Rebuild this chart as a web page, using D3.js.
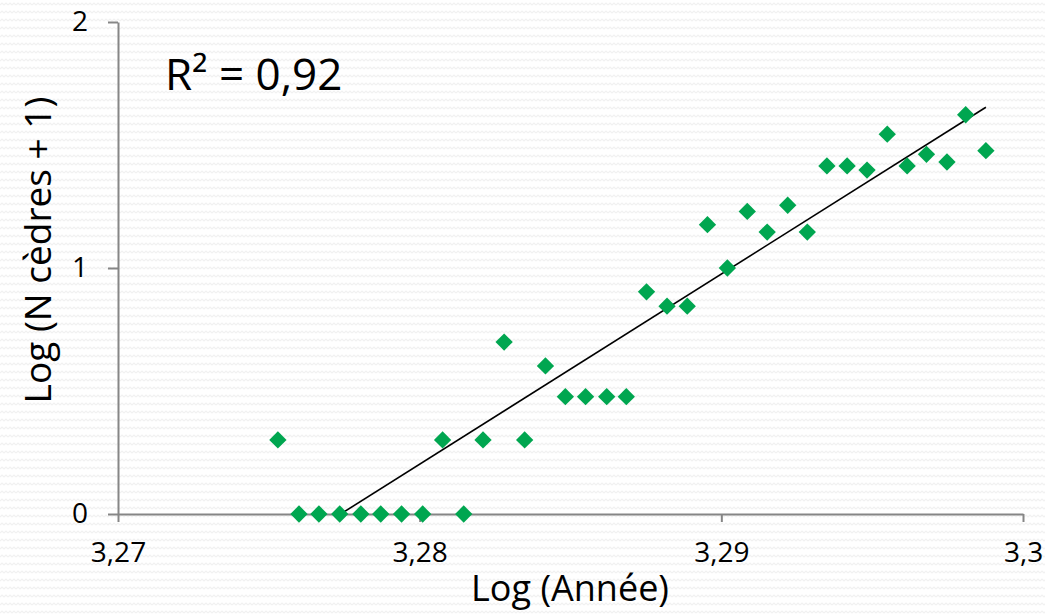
<!DOCTYPE html>
<html>
<head>
<meta charset="utf-8">
<script src="https://cdn.jsdelivr.net/npm/d3@7"></script>
<style>
    body { margin: 0; background: #fff; }
    #chart { width: 1045px; height: 615px; }
    text { font-family: "Open Sans", "Noto Sans", sans-serif; fill: #000; }
</style>
</head>
<body>
<div id="chart"></div>
<script>
//Datos
const logAnnee = [3.2753, 3.2760, 3.27666, 3.27735, 3.27805, 3.27871, 3.2794, 3.2801, 3.28076, 3.28146,
    3.2821, 3.2828, 3.28348, 3.28417, 3.28483, 3.2855, 3.2862, 3.28685, 3.28752, 3.2882,
    3.28887, 3.28954, 3.2902, 3.29086, 3.29152, 3.2922, 3.29285, 3.2935, 3.29417, 3.29483,
    3.2955, 3.29616, 3.2968, 3.29748, 3.2981, 3.29877];
const logCedres = [0.301, 0, 0, 0, 0, 0, 0, 0, 0.301, 0,
    0.301, 0.699, 0.301, 0.602, 0.477, 0.477, 0.477, 0.477, 0.903, 0.845,
    0.845, 1.176, 1.0, 1.230, 1.146, 1.255, 1.146, 1.415, 1.415, 1.398,
    1.544, 1.415, 1.462, 1.431, 1.623, 1.477];
const xTicks = [3.27, 3.28, 3.29, 3.30];
const xTickLabels = ['3,27', '3,28', '3,29', '3,3'];
const yTicks = [0, 1, 2];
const r2Label = 'R² = 0,92';

const COLOR_POINT = '#00A650',
COLOR_AXIS = '#868686';

let margin = {top: 22, right: 22, bottom: 101, left: 118},
    width = 1045 - margin.left - margin.right,
    height = 615 - margin.top - margin.bottom;

let root = d3.select('#chart')
    .append('svg')
        .attr('width', 1045)
        .attr('height', 615);

//Fondo con textura
let defs = root.append('defs');
let pat = defs.append('pattern')
    .attr('id', 'fondo')
    .attr('patternUnits', 'userSpaceOnUse')
    .attr('width', 8)
    .attr('height', 8);
pat.append('path')
    .attr('d', 'M0,5 L2,3 L4,5 L6,3 L8,5')
    .attr('fill', 'none')
    .attr('stroke', '#f1f1f1')
    .attr('stroke-width', 1.2);
root.append('rect')
    .attr('width', 1045)
    .attr('height', 615)
    .attr('fill', 'url(#fondo)');

defs.append('clipPath').attr('id', 'zona')
    .append('rect')
    .attr('width', width)
    .attr('height', height);

let svg = root.append('g')
    .attr('transform', 'translate(' + margin.left + ',' + margin.top + ')');

let x = d3.scaleLinear().domain([3.27, 3.30]).range([0, width]);
let y = d3.scaleLinear().domain([0, 2]).range([height, 0]);

//Ejes
let xAxis = svg.append('g')
    .attr('transform', 'translate(0,' + height + ')')
    .call(d3.axisBottom(x).tickValues(xTicks).tickFormat((d, i) => xTickLabels[i]).tickSizeInner(8).tickSizeOuter(0).tickPadding(20));

let yAxis = svg.append('g')
    .call(d3.axisLeft(y).tickValues(yTicks).tickFormat(d3.format('d')).tickSizeInner(10).tickSizeOuter(0).tickPadding(20));

[xAxis, yAxis].forEach(function(ax) {
    ax.selectAll('path, line').attr('stroke', COLOR_AXIS).attr('stroke-width', 2);
    ax.selectAll('text').style('font-size', '28px').attr('fill', '#000');
});

//Recta de regresión (mínimos cuadrados)
let mx = d3.mean(logAnnee), my = d3.mean(logCedres);
let sxy = d3.sum(logAnnee, (d, i) => (d - mx) * (logCedres[i] - my));
let sxx = d3.sum(logAnnee, d => (d - mx) * (d - mx));
let slope = sxy / sxx, intercept = my - slope * mx;
let xExt = d3.extent(logAnnee);
let x0 = Math.max(xExt[0], -intercept / slope);

svg.append('line')
    .attr('clip-path', 'url(#zona)')
    .attr('x1', x(x0))
    .attr('y1', y(intercept + slope * x0))
    .attr('x2', x(xExt[1]))
    .attr('y2', y(intercept + slope * xExt[1]))
    .attr('stroke', '#000')
    .attr('stroke-width', 1.6);

//Puntos
svg.append('g')
    .selectAll('path')
    .data(logAnnee)
    .enter()
    .append('path')
    .attr('d', d3.symbol().type(d3.symbolSquare).size(150))
    .attr('transform', (d, i) => 'translate(' + x(d) + ',' + y(logCedres[i]) + ') rotate(45)')
    .attr('fill', COLOR_POINT);

//Títulos
svg.append('text')
    .attr('x', 47)
    .attr('y', 68)
    .style('font-size', '44px')
    .text(r2Label);

root.append('text')
    .attr('x', 570)
    .attr('y', 601)
    .attr('text-anchor', 'middle')
    .style('font-size', '36px')
    .text('Log (Année)');

root.append('text')
    .attr('transform', 'translate(51,250) rotate(-90)')
    .attr('text-anchor', 'middle')
    .style('font-size', '37px')
    .text('Log (N cèdres + 1)');
</script>
</body>
</html>
